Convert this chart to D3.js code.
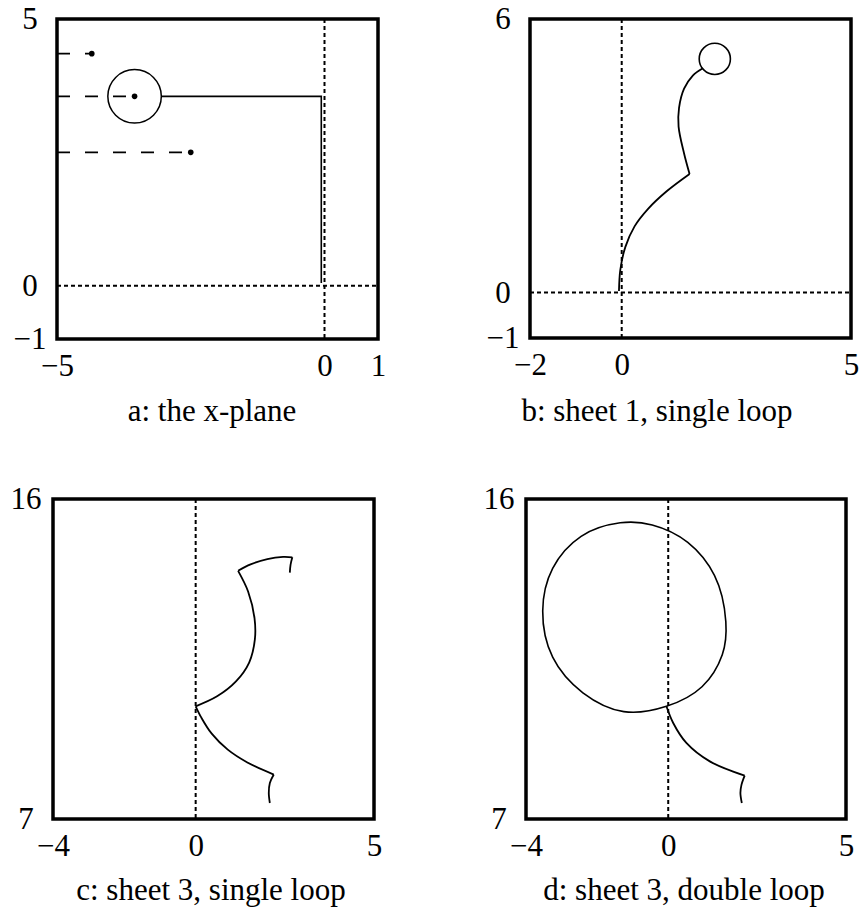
<!DOCTYPE html>
<html>
<head>
<meta charset="utf-8">
<script src="https://cdn.jsdelivr.net/npm/d3@7"></script>
<style>
  html, body { margin: 0; padding: 0; background: #fff; }
  svg { display: block; }
  text { font-family: "Liberation Serif", "Times New Roman", serif; fill: #000; }
</style>
</head>
<body>
<svg id="fig" width="860" height="917"></svg>
<script>
// ---- tick labels ----
const xTicksA = [-5, 0, 1], yTicksA = [-1, 0, 5];
const xTicksB = [-2, 0, 5], yTicksB = [-1, 0, 6];
const xTicksC = [-4, 0, 5], yTicksC = [7, 16];
const xTicksD = [-4, 0, 5], yTicksD = [7, 16];

// ---- panel a: x-plane ----
// starting points of the incoming paths (they lie on y = -x)
const startPointsA = [[-4.35, 4.35], [-3.55, 3.55], [-2.5, 2.5]];
const keyholeCircleA = { cx: -3.55, cy: 3.55, r: 0.5 };
const contourA = [[-3.05, 3.55], [-0.06, 3.55], [-0.06, 0.05]];

// ---- panel b: sheet 1, single loop ----
const sheet1ArcLow = [[-0.06, 0.03], [-0.03, 0.50], [0.08, 1.00], [0.28, 1.45], [0.58, 1.84], [0.98, 2.22], [1.48, 2.60]];
const sheet1ArcHigh = [[1.48, 2.60], [1.36, 3.05], [1.24, 3.64], [1.25, 4.05], [1.36, 4.47], [1.55, 4.76], [1.77, 4.92]];
const sheet1Circle = { cx: 2.03, cy: 5.125, r: 0.34 };

// ---- panel c: sheet 3, single loop ----
const sheet3cTop = [[1.19, 13.98], [1.54, 14.16], [2.01, 14.31], [2.45, 14.37], [2.71, 14.36]];
const sheet3cTopHook = [[2.71, 14.36], [2.66, 14.15], [2.64, 13.93]];
const sheet3cMiddle = [[1.19, 13.98], [1.47, 13.40], [1.65, 12.65], [1.66, 12.05], [1.50, 11.40], [1.13, 10.87], [0.60, 10.45], [0.0, 10.17]];
const sheet3cLower = [[0.0, 10.17], [0.16, 9.85], [0.45, 9.40], [0.90, 8.95], [1.45, 8.59], [2.19, 8.25]];
const sheet3cHook = [[2.19, 8.25], [2.08, 8.01], [2.05, 7.73], [2.08, 7.45]];

// ---- panel d: sheet 3, double loop ----
const sheet3dLoop = [[-0.05, 10.17], [0.95, 10.72], [1.52, 11.62], [1.62, 12.55], [1.30, 13.85], [0.55, 14.78], [-0.45, 15.27], [-1.35, 15.33], [-2.45, 14.95], [-3.25, 14.05], [-3.53, 12.85], [-3.25, 11.55], [-2.40, 10.55], [-1.25, 10.02]];
const sheet3dLower = [[-0.05, 10.17], [0.14, 9.70], [0.51, 9.14], [1.17, 8.62], [2.15, 8.22]];
const sheet3dHook = [[2.15, 8.22], [2.06, 7.96], [2.03, 7.73], [2.07, 7.45]];

const captions = ["a: the x-plane", "b: sheet 1, single loop", "c: sheet 3, single loop", "d: sheet 3, double loop"];

const svg = d3.select("#fig");
svg.append("rect").attr("width", 860).attr("height", 917).attr("fill", "#fff");

const FONT = 31;

function makePanel(o) {
  const x = d3.scaleLinear().domain(o.xDomain).range([o.left, o.left + o.w]);
  const y = d3.scaleLinear().domain(o.yDomain).range([o.top + o.h, o.top]);
  const g = svg.append("g");

  // y tick labels
  const ya = d3.axisLeft(y).tickValues(o.yTicks).tickSize(0).tickFormat(d3.format("d"));
  const yg = g.append("g").attr("transform", `translate(${o.left},0)`).call(ya);
  yg.select(".domain").remove();
  yg.selectAll("text").attr("x", -27).attr("text-anchor", "middle")
    .style("font-size", FONT + "px").style("font-family", "Liberation Serif, serif").attr("fill", "#000");

  // x tick labels
  const xa = d3.axisBottom(x).tickValues(o.xTicks).tickSize(0).tickFormat(d3.format("d"));
  const xg = g.append("g").attr("transform", `translate(0,${o.top + o.h})`).call(xa);
  xg.select(".domain").remove();
  xg.selectAll("text").attr("y", 15).attr("text-anchor", "middle")
    .style("font-size", FONT + "px").style("font-family", "Liberation Serif, serif").attr("fill", "#000");

  // dotted coordinate axes
  const dotted = { stroke: "#000", "stroke-width": 2, "stroke-dasharray": "4,3", fill: "none" };
  if (o.vAxis) {
    const l = g.append("line").attr("x1", x(0)).attr("x2", x(0)).attr("y1", o.top).attr("y2", o.top + o.h);
    Object.entries(dotted).forEach(([k, v]) => l.attr(k, v));
  }
  if (o.hAxis) {
    const l = g.append("line").attr("x1", o.left).attr("x2", o.left + o.w).attr("y1", y(0)).attr("y2", y(0));
    Object.entries(dotted).forEach(([k, v]) => l.attr(k, v));
  }

  // caption
  svg.append("text").attr("x", o.capX).attr("y", o.capY).attr("text-anchor", "middle")
    .style("font-size", FONT + "px").text(o.caption);

  return { x, y, g, frame: () => g.append("rect").attr("x", o.left).attr("y", o.top).attr("width", o.w).attr("height", o.h)
    .attr("fill", "none").attr("stroke", "#000").attr("stroke-width", 3.5) };
}

function drawCurve(p, pts, closed, width) {
  const line = d3.line().x(d => p.x(d[0])).y(d => p.y(d[1]))
    .curve(closed ? d3.curveCatmullRomClosed.alpha(0.5) : d3.curveCatmullRom.alpha(0.5));
  p.g.append("path").attr("d", line(pts)).attr("fill", "none")
    .attr("stroke", "#000").attr("stroke-width", width || 1.8).attr("stroke-linejoin", "round");
}

function drawCircle(p, c, width) {
  p.g.append("circle").attr("cx", p.x(c.cx)).attr("cy", p.y(c.cy))
    .attr("r", p.x(c.cx + c.r) - p.x(c.cx))
    .attr("fill", "none").attr("stroke", "#000").attr("stroke-width", width || 1.6);
}

// panel a
const pa = makePanel({ left: 57, top: 19, w: 321, h: 320, xDomain: [-5, 1], yDomain: [-1, 5],
  xTicks: xTicksA, yTicks: yTicksA, vAxis: true, hAxis: true, caption: captions[0], capX: 212, capY: 421 });
startPointsA.forEach(([sx, sy]) => {
  pa.g.append("line").attr("x1", pa.x(-5)).attr("x2", pa.x(sx)).attr("y1", pa.y(sy)).attr("y2", pa.y(sy))
    .attr("stroke", "#000").attr("stroke-width", 1.6).attr("stroke-dasharray", "13,15");
  pa.g.append("circle").attr("cx", pa.x(sx)).attr("cy", pa.y(sy)).attr("r", 2.8).attr("fill", "#000");
});
drawCircle(pa, keyholeCircleA, 1.5);
pa.g.append("path").attr("d", d3.line().x(d => pa.x(d[0])).y(d => pa.y(d[1]))(contourA))
  .attr("fill", "none").attr("stroke", "#000").attr("stroke-width", 1.6);
pa.frame();

// panel b
const pb = makePanel({ left: 530, top: 19, w: 321, h: 319, xDomain: [-2, 5], yDomain: [-1, 6],
  xTicks: xTicksB, yTicks: yTicksB, vAxis: true, hAxis: true, caption: captions[1], capX: 657, capY: 421 });
drawCurve(pb, sheet1ArcLow);
drawCurve(pb, sheet1ArcHigh);
drawCircle(pb, sheet1Circle, 1.6);
pb.frame();

// panel c
const pc = makePanel({ left: 53, top: 499, w: 321, h: 320, xDomain: [-4, 5], yDomain: [7, 16],
  xTicks: xTicksC, yTicks: yTicksC, vAxis: true, hAxis: false, caption: captions[2], capX: 211, capY: 900 });
[sheet3cTop, sheet3cTopHook, sheet3cMiddle, sheet3cLower, sheet3cHook].forEach(s => drawCurve(pc, s));
pc.frame();

// panel d
const pd = makePanel({ left: 526, top: 499, w: 320, h: 320, xDomain: [-4, 5], yDomain: [7, 16],
  xTicks: xTicksD, yTicks: yTicksD, vAxis: true, hAxis: false, caption: captions[3], capX: 684, capY: 900 });
drawCurve(pd, sheet3dLoop, true, 1.6);
[sheet3dLower, sheet3dHook].forEach(s => drawCurve(pd, s));
pd.frame();
</script>
</body>
</html>
